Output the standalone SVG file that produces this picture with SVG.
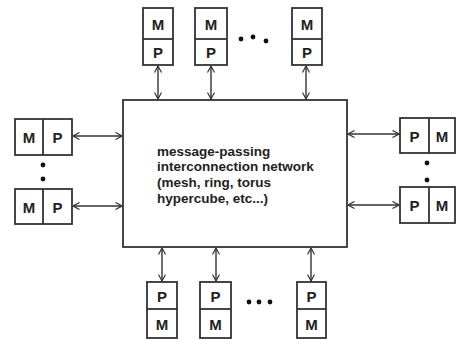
<svg xmlns="http://www.w3.org/2000/svg" width="457" height="340" viewBox="0 0 457 340">
<style>
  .box { fill: #fff; stroke: #333; stroke-width: 1.8; }
  .div { stroke: #333; stroke-width: 1.8; }
  .lbl { font-family: "Liberation Sans", Arial, sans-serif; font-weight: bold; font-size: 15px; fill: #222; text-anchor: middle; dominant-baseline: central; }
  .net { font-family: "Liberation Sans", Arial, sans-serif; font-weight: bold; font-size: 13.5px; fill: #222; }
  .conn { stroke: #333; stroke-width: 1.4; fill: none; marker-start: url(#ah); marker-end: url(#ah); }
  .dot { fill: #111; }
</style>
<defs>
  <marker id="ah" viewBox="0 0 8 8" refX="7.5" refY="4" markerWidth="8" markerHeight="8" markerUnits="userSpaceOnUse" orient="auto-start-reverse">
    <path d="M1,0.5 L7.5,4 L1,7.5" fill="none" stroke="#333" stroke-width="1.2"/>
  </marker>
</defs>
<rect width="457" height="340" fill="#fff"/>

<g id="network">
  <rect class="box" x="123" y="100" width="224" height="147"/>
  <text class="net" x="157" y="155.5">message-passing</text>
  <text class="net" x="157" y="171">interconnection network</text>
  <text class="net" x="157" y="187">(mesh, ring, torus</text>
  <text class="net" x="157" y="203">hypercube, etc...)</text>
</g>

<g id="connectors">
  <line class="conn" x1="158" y1="66" x2="158" y2="99"/>
  <line class="conn" x1="211" y1="66" x2="211" y2="99"/>
  <line class="conn" x1="306" y1="66" x2="306" y2="99"/>
  <line class="conn" x1="162" y1="248" x2="162" y2="281"/>
  <line class="conn" x1="216" y1="248" x2="216" y2="281"/>
  <line class="conn" x1="311" y1="248" x2="311" y2="281"/>
  <line class="conn" x1="73" y1="136" x2="122" y2="136"/>
  <line class="conn" x1="73" y1="206" x2="122" y2="206"/>
  <line class="conn" x1="348" y1="134" x2="399" y2="134"/>
  <line class="conn" x1="348" y1="205" x2="399" y2="205"/>
</g>

<g id="top1">
  <rect class="box" x="143" y="8" width="30" height="57"/>
  <line class="div" x1="143" y1="39" x2="173" y2="39"/>
  <text class="lbl" x="158" y="24">M</text>
  <text class="lbl" x="158" y="52.5">P</text>
</g>
<g id="top2">
  <rect class="box" x="195" y="8" width="32" height="57"/>
  <line class="div" x1="195" y1="39" x2="227" y2="39"/>
  <text class="lbl" x="211" y="24">M</text>
  <text class="lbl" x="211" y="52.5">P</text>
</g>
<g id="top3">
  <rect class="box" x="292" y="8" width="30" height="57"/>
  <line class="div" x1="292" y1="39" x2="322" y2="39"/>
  <text class="lbl" x="307" y="24">M</text>
  <text class="lbl" x="307" y="52.5">P</text>
</g>
<g id="top-dots">
  <circle class="dot" cx="241" cy="39" r="2.4"/>
  <circle class="dot" cx="253" cy="37" r="2.4"/>
  <circle class="dot" cx="266" cy="41" r="2.4"/>
</g>

<g id="bottom1">
  <rect class="box" x="147" y="282" width="30" height="56"/>
  <line class="div" x1="147" y1="309" x2="177" y2="309"/>
  <text class="lbl" x="162" y="296">P</text>
  <text class="lbl" x="162" y="324">M</text>
</g>
<g id="bottom2">
  <rect class="box" x="200" y="282" width="31" height="56"/>
  <line class="div" x1="200" y1="309" x2="231" y2="309"/>
  <text class="lbl" x="215.5" y="296">P</text>
  <text class="lbl" x="215.5" y="324">M</text>
</g>
<g id="bottom3">
  <rect class="box" x="297" y="282" width="29" height="56"/>
  <line class="div" x1="297" y1="309" x2="326" y2="309"/>
  <text class="lbl" x="311.5" y="296">P</text>
  <text class="lbl" x="311.5" y="324">M</text>
</g>
<g id="bottom-dots">
  <circle class="dot" cx="249" cy="302" r="2.4"/>
  <circle class="dot" cx="259" cy="302" r="2.4"/>
  <circle class="dot" cx="270" cy="302" r="2.4"/>
</g>

<g id="left1">
  <rect class="box" x="15" y="119" width="57" height="36"/>
  <line class="div" x1="43" y1="119" x2="43" y2="155"/>
  <text class="lbl" x="29" y="137.5">M</text>
  <text class="lbl" x="57.5" y="137.5">P</text>
</g>
<g id="left2">
  <rect class="box" x="15" y="189" width="57" height="35"/>
  <line class="div" x1="43" y1="189" x2="43" y2="224"/>
  <text class="lbl" x="29" y="207">M</text>
  <text class="lbl" x="57.5" y="207">P</text>
</g>
<g id="left-dots">
  <circle class="dot" cx="43" cy="165" r="2.4"/>
  <circle class="dot" cx="43" cy="179" r="2.4"/>
</g>

<g id="right1">
  <rect class="box" x="400" y="118" width="55" height="35"/>
  <line class="div" x1="429" y1="118" x2="429" y2="153"/>
  <text class="lbl" x="414.5" y="136">P</text>
  <text class="lbl" x="442" y="136">M</text>
</g>
<g id="right2">
  <rect class="box" x="400" y="187" width="55" height="36"/>
  <line class="div" x1="429" y1="187" x2="429" y2="223"/>
  <text class="lbl" x="414.5" y="205.5">P</text>
  <text class="lbl" x="442" y="205.5">M</text>
</g>
<g id="right-dots">
  <circle class="dot" cx="427" cy="163" r="2.4"/>
  <circle class="dot" cx="427" cy="180" r="2.4"/>
</g>
</svg>
